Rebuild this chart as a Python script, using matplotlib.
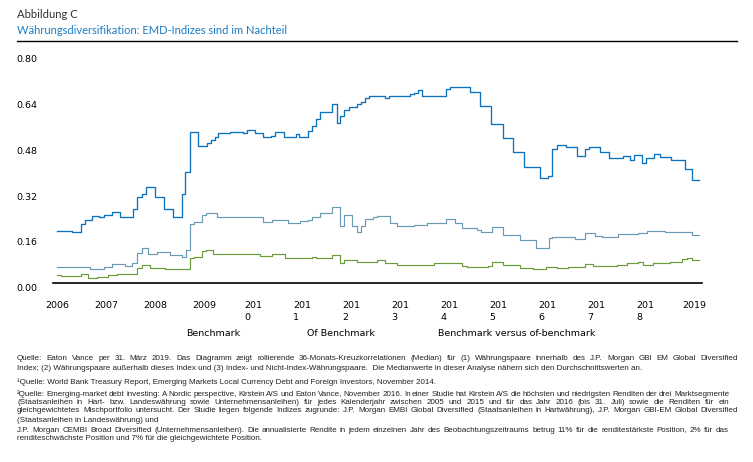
import numpy as np
import matplotlib
matplotlib.use("Agg")
import matplotlib.pyplot as plt
from matplotlib.transforms import ScaledTranslation

# rolling 36-month median correlations
bm_t = [2006.00, 2006.31, 2006.49, 2006.57, 2006.71, 2006.86, 2006.96, 2007.12, 2007.29,
        2007.55, 2007.63, 2007.73, 2007.82, 2008.00, 2008.18, 2008.37, 2008.55, 2008.61,
        2008.71, 2008.88, 2009.06, 2009.14, 2009.22, 2009.29, 2009.53, 2009.80, 2009.88,
        2010.04, 2010.20, 2010.37, 2010.45, 2010.63, 2010.88, 2010.94, 2011.12, 2011.20,
        2011.29, 2011.37, 2011.61, 2011.71, 2011.78, 2011.86, 2011.96, 2012.04, 2012.12,
        2012.20, 2012.29, 2012.37, 2012.69, 2012.78, 2013.20, 2013.29, 2013.37, 2013.45,
        2013.94, 2014.02, 2014.43, 2014.63, 2014.86, 2015.10, 2015.31, 2015.53, 2015.86,
        2016.02, 2016.10, 2016.20, 2016.39, 2016.61, 2016.78, 2016.86, 2017.08, 2017.27,
        2017.55, 2017.69, 2017.78, 2017.94, 2018.02, 2018.18, 2018.31, 2018.53, 2018.82,
        2018.96]
bm_v = [0.184, 0.178, 0.208, 0.222, 0.236, 0.230, 0.240, 0.248, 0.230,
        0.260, 0.300, 0.313, 0.337, 0.300, 0.260, 0.233, 0.313, 0.390,
        0.528, 0.480, 0.490, 0.500, 0.510, 0.525, 0.530, 0.525, 0.535,
        0.525, 0.510, 0.515, 0.527, 0.510, 0.520, 0.510, 0.533, 0.550,
        0.575, 0.600, 0.627, 0.560, 0.585, 0.605, 0.615, 0.617, 0.625,
        0.635, 0.647, 0.655, 0.648, 0.655, 0.660, 0.665, 0.675, 0.655,
        0.680, 0.687, 0.667, 0.620, 0.557, 0.506, 0.460, 0.408, 0.368,
        0.376, 0.470, 0.482, 0.477, 0.444, 0.470, 0.477, 0.460, 0.437,
        0.446, 0.432, 0.449, 0.421, 0.437, 0.450, 0.440, 0.432, 0.400,
        0.361]

ofb_t = [2006.00, 2006.67, 2006.96, 2007.12, 2007.39, 2007.53, 2007.63, 2007.73, 2007.86,
         2008.04, 2008.31, 2008.55, 2008.63, 2008.71, 2008.80, 2008.96, 2009.04, 2009.27,
         2010.20, 2010.39, 2010.71, 2010.96, 2011.12, 2011.20, 2011.37, 2011.61, 2011.78,
         2011.86, 2012.02, 2012.12, 2012.20, 2012.29, 2012.45, 2012.53, 2012.80, 2012.94,
         2013.29, 2013.55, 2013.94, 2014.12, 2014.27, 2014.57, 2014.65, 2014.88, 2015.10,
         2015.45, 2015.78, 2016.04, 2016.10, 2016.39, 2016.57, 2016.78, 2016.98, 2017.12,
         2017.45, 2017.86, 2018.04, 2018.41, 2018.96]
ofb_v = [0.057, 0.050, 0.058, 0.067, 0.062, 0.072, 0.105, 0.122, 0.104,
         0.110, 0.100, 0.093, 0.116, 0.207, 0.213, 0.238, 0.247, 0.231,
         0.215, 0.220, 0.211, 0.216, 0.220, 0.232, 0.244, 0.267, 0.200,
         0.238, 0.200, 0.180, 0.200, 0.226, 0.231, 0.234, 0.210, 0.200,
         0.203, 0.211, 0.223, 0.210, 0.192, 0.186, 0.178, 0.197, 0.168,
         0.150, 0.122, 0.157, 0.160, 0.163, 0.155, 0.174, 0.165, 0.162,
         0.172, 0.175, 0.183, 0.180, 0.168]

vs_t = [2006.00, 2006.08, 2006.49, 2006.63, 2006.82, 2007.04, 2007.22, 2007.63, 2007.73,
        2007.90, 2008.20, 2008.71, 2008.80, 2008.96, 2009.04, 2009.18, 2009.47, 2010.14,
        2010.39, 2010.65, 2011.20, 2011.29, 2011.61, 2011.78, 2011.86, 2012.12, 2012.53,
        2012.69, 2012.94, 2013.69, 2013.94, 2014.27, 2014.37, 2014.80, 2014.88, 2015.10,
        2015.45, 2015.71, 2015.98, 2016.20, 2016.43, 2016.78, 2016.94, 2017.43, 2017.63,
        2017.86, 2017.96, 2018.16, 2018.51, 2018.76, 2018.86, 2018.96]
vs_v = [0.029, 0.025, 0.032, 0.017, 0.023, 0.028, 0.032, 0.052, 0.064,
        0.052, 0.049, 0.087, 0.092, 0.114, 0.118, 0.104, 0.102, 0.097,
        0.102, 0.087, 0.093, 0.090, 0.099, 0.072, 0.083, 0.075, 0.080,
        0.070, 0.064, 0.070, 0.072, 0.060, 0.056, 0.062, 0.073, 0.064,
        0.053, 0.049, 0.056, 0.052, 0.056, 0.066, 0.060, 0.064, 0.070,
        0.075, 0.064, 0.072, 0.075, 0.085, 0.090, 0.081]
end_date = 2019.1

series_names = ["Benchmark", "Of Benchmark", "Benchmark versus of-benchmark"]
years = list(range(2006, 2020))
yticks = [0.00, 0.16, 0.32, 0.48, 0.64, 0.80]

notes = [
    ("Quelle: Eaton Vance per 31. März 2019. Das Diagramm zeigt rollierende 36-Monats-Kreuzkorrelationen (Median) für (1) Währungspaare innerhalb des J.P. Morgan GBI EM Global Diversified", True, 738),
    ("Index; (2) Währungspaare außerhalb dieses Index und (3) Index- und Nicht-Index-Währungspaare.  Die Medianwerte in dieser Analyse nähern sich den Durchschnittswerten an.", False, 0),
    ("¹Quelle: World Bank Treasury Report, Emerging Markets Local Currency Debt and Foreign Investors, November 2014.", False, 0),
    ("²Quelle: Emerging-market debt investing: A Nordic perspective, Kirstein A/S und Eaton Vance, November 2016. In einer Studie hat Kirstein A/S die höchsten und niedrigsten Renditen der drei Marktsegmente", True, 729),
    ("(Staatsanleihen in Hart- bzw. Landeswährung sowie Unternehmensanleihen) für jedes Kalenderjahr zwischen 2005 und 2015 und für das Jahr 2016 (bis 31. Juli) sowie die Renditen für ein", True, 729),
    ("gleichgewichtetes Mischportfolio untersucht. Der Studie liegen folgende Indizes zugrunde: J.P. Morgan EMBI Global Diversified (Staatsanleihen in Hartwährung), J.P. Morgan GBI-EM Global Diversified", True, 738),
    ("(Staatsanleihen in Landeswährung) und", False, 0),
    ("J.P. Morgan CEMBI Broad Diversified (Unternehmensanleihen). Die annualisierte Rendite in jedem einzelnen Jahr des Beobachtungszeitraums betrug 11% für die renditestärkste Position, 2% für das", True, 729),
    ("renditeschwächste Position und 7% für die gleichgewichtete Position.", False, 0),
]
note_y = [359, 369, 382, 394, 402, 410, 420, 430, 439]

W, H = 753, 462
fig = plt.figure(figsize=(W / 100, H / 100), dpi=100)
fig.patch.set_facecolor("white")

# axes placed in pixel terms
x_left, x_right, y_bot, y_top = 53, 702, 283.3, 54.3
ax = fig.add_axes([x_left / W, 1 - y_bot / H, (x_right - x_left) / W, (y_bot - y_top) / H])
px_per_year = 49.0
ax.set_xlim(2006 - 4 / px_per_year, 2006 - 4 / px_per_year + (x_right - x_left) / px_per_year)
ax.set_ylim(0, 0.80)

colors = ["#0b72bf", "#6b9ab4", "#6a9c3a"]
widths = [0.95, 0.85, 0.85]
for (t, v), c, lw in zip([(bm_t, bm_v), (ofb_t, ofb_v), (vs_t, vs_v)], colors, widths):
    tt = np.append(t, end_date)
    vv = np.append(v, v[-1])
    ax.plot(tt, vv, drawstyle="steps-post", color=c, lw=lw)

for s in ["top", "right", "left"]:
    ax.spines[s].set_visible(False)
ax.spines["bottom"].set_color("black")
ax.spines["bottom"].set_linewidth(1.2)
ax.tick_params(length=0)

tick_font = dict(family="DejaVu Sans", size=6.8, color="black")
ax.set_yticks(yticks)
ax.set_yticklabels([f"{v:.2f}" for v in yticks], **tick_font)
ax.tick_params(axis="y", pad=11)
for lab in ax.get_yticklabels():
    lab.set_transform(lab.get_transform() + ScaledTranslation(0, -4.4 / 100, fig.dpi_scale_trans))

ax.set_xticks(years)
xlabels = [str(y) if (y < 2010 or y == 2019) else f"{str(y)[:3]}\n{str(y)[3]}" for y in years]
ax.set_xticklabels(xlabels, linespacing=1.35, multialignment="left", **tick_font)
ax.tick_params(axis="x", pad=13)

# header
fig.text(17 / W, 1 - 15 / H, "Abbildung C", fontsize=8.1, family="Lato", color="#333333", va="center")
fig.text(17 / W, 1 - 31 / H, "Währungsdiversifikation: EMD-Indizes sind im Nachteil", fontsize=8.0,
         family="Lato", color="#1a7cc4", va="center")
fig.add_artist(plt.Line2D([17 / W, 737 / W], [1 - 41 / H, 1 - 41 / H], color="black", lw=1.0))

# legend labels (no keys in the original)
for name, xpos in zip(series_names, [186, 307, 438]):
    fig.text(xpos / W, 1 - 334 / H, name, ha="left", va="center", **tick_font)

# footnotes, partly justified
note_font = dict(family="Liberation Sans", size=5.75, color="#222222")
renderer = fig.canvas.get_renderer()


def justify(text, y, x0, x1):
    words = text.split()
    ws = []
    for w in words:
        tmp = fig.text(0, 0, w, **note_font)
        ws.append(tmp.get_window_extent(renderer).width)
        tmp.remove()
    gap = (x1 - x0 - sum(ws)) / (len(words) - 1)
    x = x0
    for w, wd in zip(words, ws):
        fig.text(x / W, 1 - y / H, w, va="center", **note_font)
        x += wd + gap


for (txt, just, xr), y in zip(notes, note_y):
    if just:
        justify(txt, y, 17, xr)
    else:
        fig.text(17 / W, 1 - y / H, txt, va="center", **note_font)

fig.savefig("out.png", dpi=100, facecolor="white")
